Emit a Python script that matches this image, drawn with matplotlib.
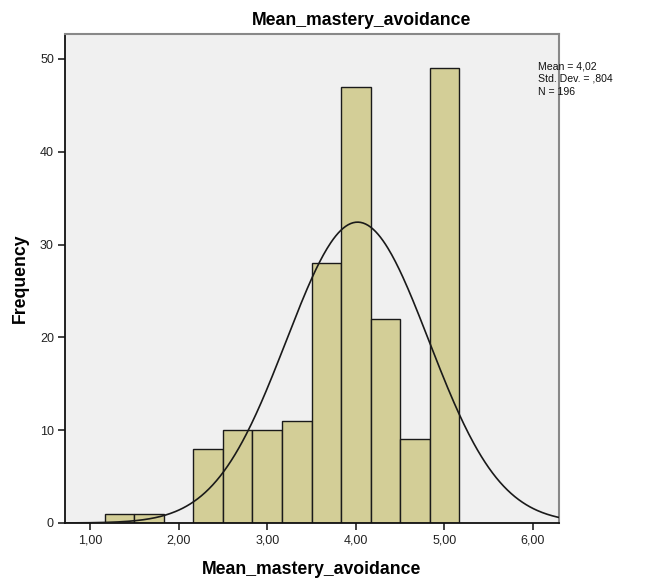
import numpy as np
import matplotlib.pyplot as plt

plt.rcParams['font.family'] = ['Liberation Sans', 'DejaVu Sans']

# Histogram bins (centres) and counts
bin_centers = [4/3, 5/3, 6/3, 7/3, 8/3, 9/3, 10/3, 11/3, 12/3, 13/3, 14/3, 15/3]
counts = [1, 1, 0, 8, 10, 10, 11, 28, 47, 22, 9, 49]
bin_width = 1/3

mean_val = 4.02
sd_val = 0.804
n_val = 196

x_ticks = [1, 2, 3, 4, 5, 6]
x_tick_labels = ['1,00', '2,00', '3,00', '4,00', '5,00', '6,00']
y_ticks = [0, 10, 20, 30, 40, 50]

fig = plt.figure(figsize=(6.62, 5.82), dpi=100)
ax = fig.add_axes([0.0982, 0.1014, 0.7462, 0.8397])
ax.set_facecolor('#F0F0F0')

ax.bar(bin_centers, counts, width=bin_width, color='#D3CE97',
       edgecolor='#1a1a1a', linewidth=1.0, zorder=2)

xs = np.linspace(0.7, 6.3, 400)
pdf = n_val * bin_width / (sd_val * np.sqrt(2 * np.pi)) * np.exp(-0.5 * ((xs - mean_val) / sd_val) ** 2)
ax.plot(xs, pdf, color='#1a1a1a', linewidth=1.2, zorder=3)

ax.set_xlim(0.718, 6.293)
ax.set_ylim(0, 52.66)
ax.set_xticks(x_ticks)
ax.set_xticklabels(x_tick_labels)
ax.set_yticks(y_ticks)
ax.tick_params(direction='out', length=5, width=1.2, labelsize=9, colors='#222222', pad=3)

for side in ['left', 'bottom']:
    ax.spines[side].set_color('#111111')
    ax.spines[side].set_linewidth(1.3)
for side in ['top', 'right']:
    ax.spines[side].set_color('#888888')
    ax.spines[side].set_linewidth(1.5)

fig.text(0.5455, 0.957, 'Mean_mastery_avoidance', fontsize=12.7, fontweight='bold',
         ha='center', va='baseline')
ax.set_xlabel('Mean_mastery_avoidance', fontsize=12.7, fontweight='bold', labelpad=11)
ax.set_ylabel('Frequency', fontsize=12.7, fontweight='bold', labelpad=8)

fig.text(0.8127, 0.895, 'Mean = 4,02\nStd. Dev. = ,804\nN = 196',
         fontsize=7.6, va='top', ha='left', linespacing=1.35, color='#111111')

fig.savefig('out.png', dpi=100)
